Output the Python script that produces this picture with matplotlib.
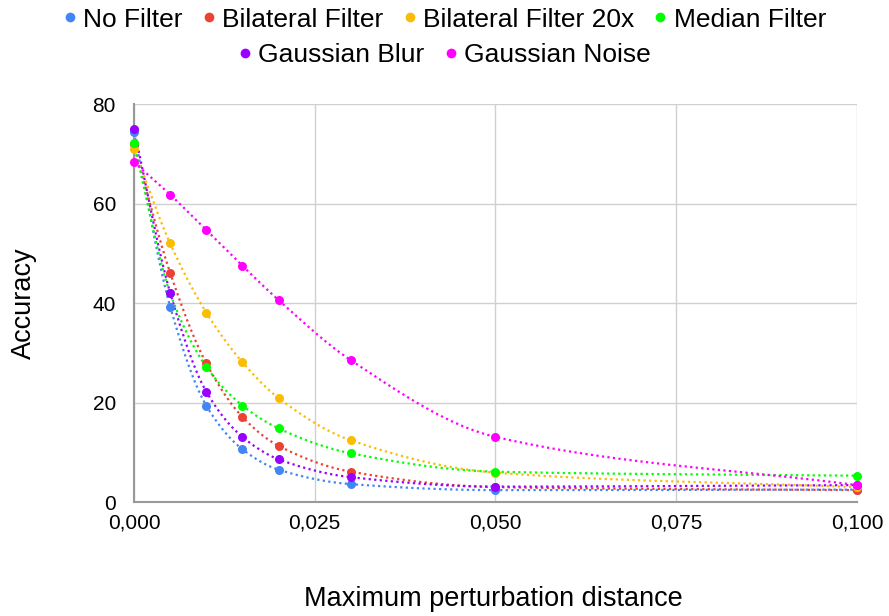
import numpy as np
import matplotlib
matplotlib.use("Agg")
import matplotlib.pyplot as plt
from matplotlib.lines import Line2D

plt.rcParams['font.family'] = ['Liberation Sans', 'DejaVu Sans']

x_vals = [0.0, 0.005, 0.01, 0.015, 0.02, 0.03, 0.05, 0.1]
series_names = ["No Filter", "Bilateral Filter", "Bilateral Filter 20x",
                "Median Filter", "Gaussian Blur", "Gaussian Noise"]
no_filter = [74.3, 39.3, 19.4, 10.6, 6.5, 3.6, 2.4, 2.5]
bilateral = [72.0, 46.1, 27.9, 17.1, 11.3, 6.1, 3.0, 2.4]
bilateral20 = [70.9, 52.0, 38.1, 28.1, 20.9, 12.4, 5.9, 3.0]
median = [72.1, 42.0, 27.2, 19.4, 14.8, 9.8, 6.1, 5.3]
gauss_blur = [75.0, 42.1, 22.2, 13.1, 8.6, 5.0, 3.1, 3.4]
gauss_noise = [68.3, 61.8, 54.7, 47.5, 40.6, 28.5, 13.1, 3.4]
colors = ["#4285F4", "#EA4335", "#FBBC04", "#00FF00", "#9900FF", "#FF00FF"]
x_ticks = [0.0, 0.025, 0.05, 0.075, 0.1]
x_tick_labels = ["0,000", "0,025", "0,050", "0,075", "0,100"]
y_ticks = [0, 20, 40, 60, 80]

all_series = [no_filter, bilateral, bilateral20, median, gauss_blur, gauss_noise]


def pchip(x, y, xs):
    x = np.asarray(x, float); y = np.asarray(y, float)
    h = np.diff(x); d = np.diff(y) / h
    n = len(x); m = np.zeros(n)
    for k in range(1, n - 1):
        if d[k - 1] * d[k] > 0:
            w1 = 2 * h[k] + h[k - 1]; w2 = h[k] + 2 * h[k - 1]
            m[k] = (w1 + w2) / (w1 / d[k - 1] + w2 / d[k])
    m[0] = d[0]; m[-1] = d[-1]
    out = np.empty_like(xs)
    for i, xv in enumerate(xs):
        k = min(np.searchsorted(x, xv, side='right') - 1, n - 2)
        k = max(k, 0)
        t = (xv - x[k]) / h[k]
        h00 = 2 * t**3 - 3 * t**2 + 1; h10 = t**3 - 2 * t**2 + t
        h01 = -2 * t**3 + 3 * t**2; h11 = t**3 - t**2
        out[i] = h00 * y[k] + h10 * h[k] * m[k] + h01 * y[k + 1] + h11 * h[k] * m[k + 1]
    return out


fig = plt.figure(figsize=(8.89, 6.16), dpi=100)
ax = fig.add_axes([0.1507, 0.185, 0.8133, 0.646])

xs = np.linspace(0, 0.1, 800)
for name, ys, c in zip(series_names, all_series, colors):
    ax.plot(xs, pchip(x_vals, ys, xs), linestyle=(0, (1, 1.5)), color=c, lw=1.6, zorder=2)
    ax.plot(x_vals, ys, 'o', color=c, ms=6.5, mec='none', zorder=3, clip_on=False)

ax.set_xlim(0, 0.1)
ax.set_ylim(0, 80)
ax.set_xticks(x_ticks)
ax.set_xticklabels(x_tick_labels)
ax.set_yticks(y_ticks)
ax.grid(True, color='#d0d0d0', lw=1)
ax.set_axisbelow(True)
for s in ['top', 'right']:
    ax.spines[s].set_visible(False)
ax.spines['left'].set_color('#999999')
ax.spines['left'].set_linewidth(1.5)
ax.spines['bottom'].set_color('#999999')
ax.spines['bottom'].set_linewidth(1.5)
ax.tick_params(length=0, labelsize=15, colors='#000000')
ax.tick_params(axis='y', pad=13)
ax.tick_params(axis='x', pad=8)

fig.text(0.555, 0.032, "Maximum perturbation distance", ha='center', va='center_baseline', fontsize=19.5)
fig.text(0.027, 0.508, "Accuracy", rotation=90, ha='center', va='center', fontsize=19.5)

handles = [Line2D([], [], marker='o', ls='none', color=c, ms=7, mec='none') for c in colors]
kw = dict(loc='center', frameon=False, fontsize=19, handletextpad=0.25,
          columnspacing=0.75, handlelength=0.5, borderpad=0, borderaxespad=0)
fig.legend(handles[:4], series_names[:4], bbox_to_anchor=(0.5, 0.968), ncol=4, **kw)
fig.legend(handles[4:], series_names[4:], bbox_to_anchor=(0.5, 0.911), ncol=2, **kw)

fig.savefig("out.png", dpi=100)
